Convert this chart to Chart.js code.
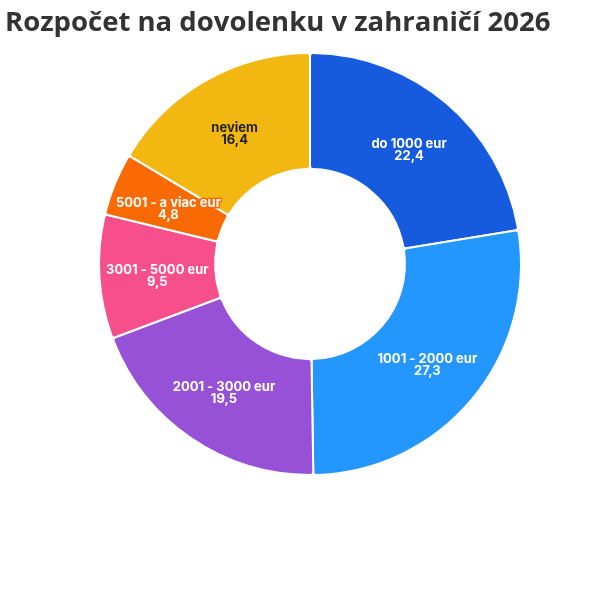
<!DOCTYPE html>
<html><head><meta charset="utf-8">
<script src="https://cdn.jsdelivr.net/npm/chart.js@4.4.1/dist/chart.umd.min.js"></script>
<style>html,body{margin:0;padding:0;background:#fff;overflow:hidden}#wrap{width:615px;height:595px}</style>
</head><body><div id="wrap"><canvas id="c"></canvas></div>
<script>
const categories = ["do 1000 eur","1001 - 2000 eur","2001 - 3000 eur","3001 - 5000 eur","5001 - a viac eur","neviem"];
const values = [22.4,27.3,19.5,9.5,4.8,16.4];
const colors = ["#165BDE","#2497FF","#9651D6","#F74F8C","#FA6A04","#F2B811"];
const labelColors = ["#ffffff","#ffffff","#ffffff","#ffffff","#ffffff","#1f1f1f"];
const titleText = "Rozpočet na dovolenku v zahraničí 2026";

const labelPlugin = {
  id:'sliceLabels',
  afterDatasetsDraw(chart){
    const ctx = chart.ctx;
    const meta = chart.getDatasetMeta(0);
    ctx.save();
    ctx.font = "bold 13px Inter";
    ctx.textAlign = "center";
    ctx.textBaseline = "middle";
    ctx.lineJoin = "round";
    meta.data.forEach((arc,i)=>{
      const p = arc.tooltipPosition();
      const lines = [categories[i], values[i].toFixed(1).replace('.',',')];
      lines.forEach((t,k)=>{
        const y = p.y - 3 + k*12;
        ctx.strokeStyle = colors[i]; ctx.lineWidth = 3;
        ctx.strokeText(t,p.x,y);
        ctx.fillStyle = labelColors[i];
        ctx.fillText(t,p.x,y);
      });
    });
    ctx.restore();
  }
};

new Chart(document.getElementById('c'),{
  type:'doughnut',
  data:{labels:categories,datasets:[{data:values,backgroundColor:colors,borderColor:'#ffffff',borderWidth:2,borderRadius:3,hoverOffset:0}]},
  options:{
    responsive:true,maintainAspectRatio:false,animation:false,
    cutout:'45%',
    layout:{padding:{left:5,right:0,top:0,bottom:119}},
    plugins:{
      legend:{display:false},
      tooltip:{enabled:false},
      title:{display:true,text:titleText,align:'start',color:'#333333',font:{family:'Open Sans',size:27.5,weight:'bold'},padding:{top:7,bottom:12}}
    }
  },
  plugins:[labelPlugin]
});
</script></body></html>
